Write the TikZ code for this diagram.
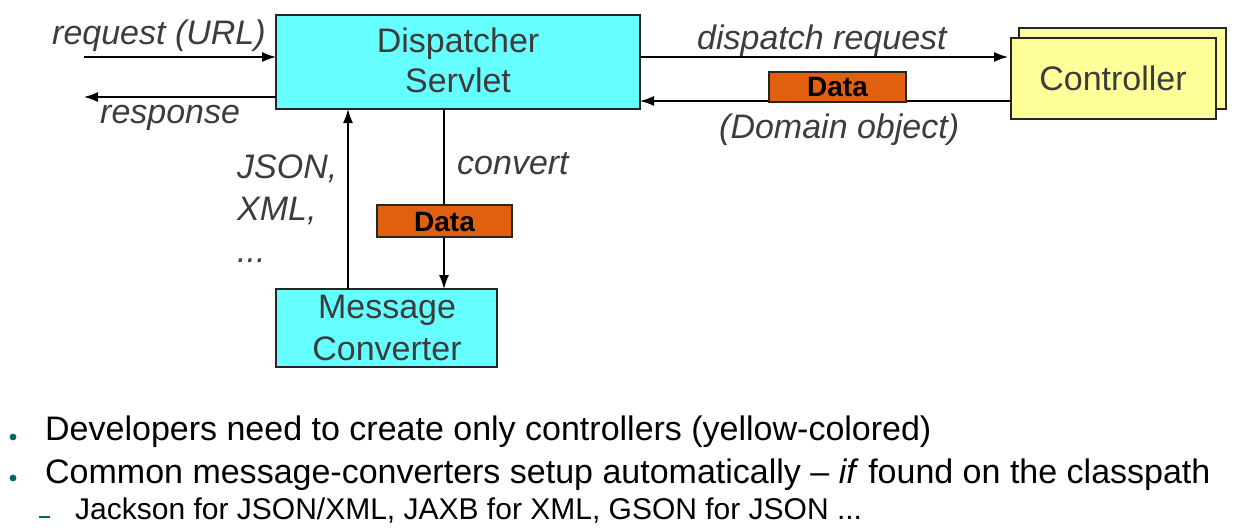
\documentclass[tikz,border=0pt]{standalone}
\usepackage{fontspec}
\setmainfont{Liberation Sans}
\usetikzlibrary{arrows.meta}
\definecolor{boxcyan}{RGB}{102,255,255}
\definecolor{ctrlyellow}{RGB}{255,255,153}
\definecolor{dataorange}{RGB}{224,96,16}
\definecolor{labelgray}{RGB}{60,60,60}
\definecolor{bulletteal}{RGB}{0,102,102}
\tikzset{
  box/.style={draw=black!85, line width=1.5pt, inner sep=0pt, outer sep=0pt},
  boxtext/.style={font=\fontsize{34}{40}\selectfont, text=labelgray, anchor=base, inner sep=0pt},
  lbl/.style={font=\fontsize{34}{42}\selectfont\itshape, text=labelgray, anchor=base west, inner sep=0pt},
  datatext/.style={font=\fontsize{28}{32}\selectfont\bfseries, text=black, anchor=base, inner sep=0pt},
  flow/.style={draw=black, line width=1.4pt, -{Latex[length=14pt,width=10pt]}},
  bul/.style={font=\fontsize{34}{40}\selectfont, text=black, anchor=base west, inner sep=0pt},
  subbul/.style={font=\fontsize{30}{36}\selectfont, text=black, anchor=base west, inner sep=0pt},
}
\begin{document}
\begin{tikzpicture}[x=1pt,y=-1pt]
\useasboundingbox (0,0) rectangle (1238,532);
% Dispatcher Servlet box
\node[box, fill=boxcyan, minimum width=364pt, minimum height=94pt, anchor=north west] (ds) at (276,15) {};
\node[boxtext] (ds1) at (458,53) {Dispatcher};
\node[boxtext] (ds2) at (458,93) {Servlet};
% Message Converter box
\node[box, fill=boxcyan, minimum width=221pt, minimum height=78pt, anchor=north west] (mc) at (276,289) {};
\node[boxtext] (mc1) at (387,318) {Message};
\node[boxtext] (mc2) at (387,360) {Converter};
% Controller boxes
\node[box, fill=ctrlyellow, minimum width=207pt, minimum height=81pt, anchor=north west] (cb) at (1019,28) {};
\node[box, fill=ctrlyellow, minimum width=205pt, minimum height=81pt, anchor=north west] (ctrl) at (1011,38) {};
\node[boxtext] (ctrlt) at (1113,91) {Controller};
% free ends
\coordinate (reqstart) at (84,57);
\coordinate (respend) at (84,97);
\coordinate (dsreqout) at (640,57);
\coordinate (ctrlin) at (1008,57);
\coordinate (ctrlout) at (1011,101);
\coordinate (dsin) at (640,101);
\coordinate (dsup) at (348,109);
\coordinate (mcup) at (348,289);
\coordinate (dsdown) at (444,109);
\coordinate (mcdown) at (444,289);
% arrows
\draw[flow] (reqstart) -- (reqstart -| ds.west);
\draw[flow] (respend -| ds.west) -- (respend);
\draw[flow] (dsreqout) -- (ctrlin);
\draw[flow] (ctrlout) -- (dsin);
\draw[flow] (mcup) -- (dsup);
\draw[flow] (dsdown) -- (mcdown);
% Data boxes
\node[box, fill=dataorange, minimum width=137pt, minimum height=30pt, anchor=north west] (d1) at (769,72) {};
\node[datatext] (d1t) at (837.5,97) {Data};
\node[box, fill=dataorange, minimum width=135pt, minimum height=32pt, anchor=north west] (d2) at (377,205) {};
\node[datatext] (d2t) at (444.5,231) {Data};
% labels
\node[lbl] (lreq) at (52,45) {request (URL)};
\node[lbl] (lresp) at (100,124) {response};
\node[lbl] (ldisp) at (697,50) {dispatch request};
\node[lbl] (ldom) at (719,139) {(Domain object)};
\node[lbl] (lconv) at (457,174) {convert};
\node[lbl] (ljson) at (237,178) {JSON,};
\node[lbl] (lxml) at (237,220) {XML,};
\node[lbl] (ldots) at (237,262) {...};
% bullets
\fill[bulletteal] (13,437) circle (3.4pt);
\fill[bulletteal] (13,478) circle (3.4pt);
\draw[bulletteal, line width=1.5pt] (39,517) -- (50,517);
\node[bul] (b1) at (45,440) {Developers need to create only controllers (yellow-colored)};
\node[bul] (b2) at (45,483) {Common message-converters setup automatically -- \textit{if} found on the classpath};
\node[subbul] (b3) at (75,519) {Jackson for JSON/XML, JAXB for XML, GSON for JSON ...};
\end{tikzpicture}
\end{document}
